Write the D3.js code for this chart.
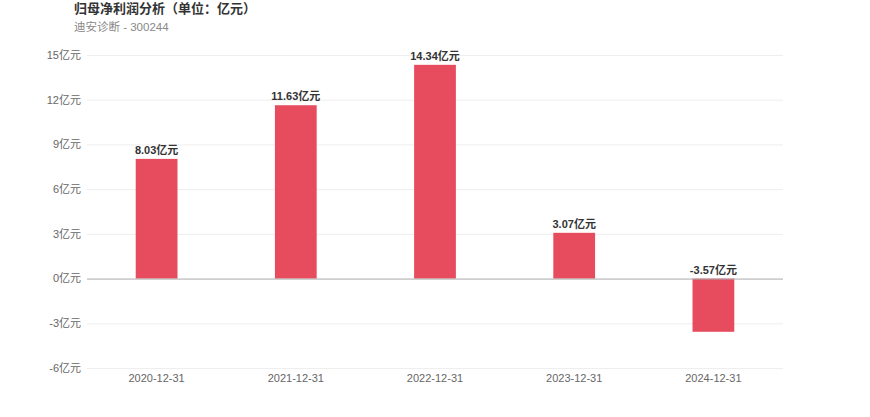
<!DOCTYPE html>
<html>
<head>
<meta charset="utf-8">
<script src="https://cdn.jsdelivr.net/npm/d3@7"></script>
<style>
  body { margin: 0; background: #fff; font-family: "Liberation Sans", "Noto Sans CJK SC", sans-serif; }
</style>
</head>
<body>
<div id="chart"></div>
<script>
// Net profit attributable to parent, unit 亿元
const categories = ['2020-12-31', '2021-12-31', '2022-12-31', '2023-12-31', '2024-12-31'];
const values = [8.03, 11.63, 14.34, 3.07, -3.57];
const yTicks = [-6, -3, 0, 3, 6, 9, 12, 15];

const width = 870;
const height = 417;
const margin = { top: 55, right: 87, bottom: 49, left: 87 };

const svg = d3.select('#chart').append('svg')
    .attr('width', width)
    .attr('height', height);

svg.append('text')
    .attr('x', 74).attr('y', 13)
    .style('font-size', '13px')
    .style('font-weight', 'bold')
    .style('fill', '#333')
    .text('归母净利润分析（单位：亿元）');

svg.append('text')
    .attr('x', 74).attr('y', 31)
    .style('font-size', '11.5px')
    .style('fill', '#888')
    .text('迪安诊断 - 300244');

const x = d3.scaleBand()
    .domain(categories)
    .range([margin.left, width - margin.right]);

const y = d3.scaleLinear()
    .domain([-6, 15])
    .range([height - margin.bottom, margin.top]);

// grid
svg.append('g')
    .selectAll('line')
    .data(yTicks.filter(t => t !== 0))
    .enter().append('line')
    .attr('x1', margin.left)
    .attr('x2', width - margin.right)
    .attr('y1', d => y(d) + 0.5)
    .attr('y2', d => y(d) + 0.5)
    .style('stroke', '#eeeeee');

// y labels
svg.append('g')
    .selectAll('text')
    .data(yTicks)
    .enter().append('text')
    .attr('x', margin.left - 6)
    .attr('y', d => y(d))
    .attr('dy', '0.35em')
    .style('text-anchor', 'end')
    .style('font-size', '11px')
    .style('fill', '#666')
    .text(d => `${d}亿元`);

// bars
const barW = x.bandwidth() * 0.3;
svg.append('g')
    .selectAll('rect')
    .data(values)
    .enter().append('rect')
    .attr('x', (d, i) => x(categories[i]) + (x.bandwidth() - barW) / 2)
    .attr('y', d => y(Math.max(d, 0)))
    .attr('width', barW)
    .attr('height', d => Math.abs(y(d) - y(0)))
    .style('fill', '#e64b5e');

// zero line
svg.append('line')
    .attr('x1', margin.left)
    .attr('x2', width - margin.right)
    .attr('y1', y(0) + 0.5)
    .attr('y2', y(0) + 0.5)
    .style('stroke', '#aaaaaa');

// value labels
svg.append('g')
    .selectAll('text')
    .data(values)
    .enter().append('text')
    .attr('x', (d, i) => x(categories[i]) + x.bandwidth() / 2)
    .attr('y', d => (d >= 0 ? y(d) : y(0)) - 5)
    .style('text-anchor', 'middle')
    .style('font-size', '11px')
    .style('font-weight', 'bold')
    .style('fill', '#333')
    .text(d => `${d.toFixed(2)}亿元`);

// x labels
svg.append('g')
    .selectAll('text')
    .data(categories)
    .enter().append('text')
    .attr('x', d => x(d) + x.bandwidth() / 2)
    .attr('y', height - margin.bottom + 14)
    .style('text-anchor', 'middle')
    .style('font-size', '11px')
    .style('fill', '#666')
    .text(d => d);
</script>
</body>
</html>
